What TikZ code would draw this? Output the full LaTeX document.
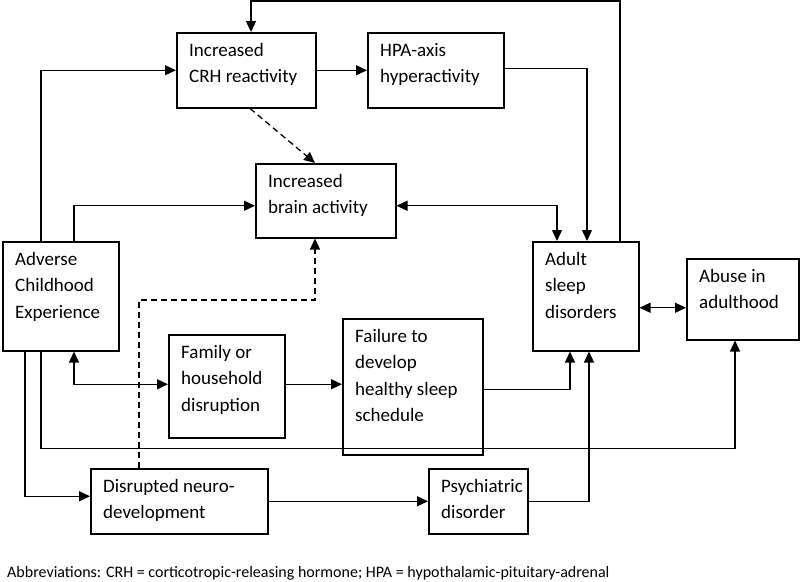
\documentclass[tikz,border=0pt]{standalone}
\usepackage{fontspec}
\setmainfont{Carlito}
\usetikzlibrary{arrows.meta}
\tikzset{
	box/.style={draw, line width=1.5pt, inner sep=0pt, anchor=north west},
	txt/.style={anchor=north west, align=left, inner xsep=13pt, inner ysep=11pt, font=\fontsize{19}{26.5}\selectfont},
	arr/.style={line width=1.3pt, -{Triangle[length=11pt,width=10pt]}},
	dbl/.style={line width=1.3pt, {Triangle[length=11pt,width=10pt]}-{Triangle[length=11pt,width=10pt]}},
	dsh/.style={dash pattern=on 6pt off 4pt},
}
\begin{document}
\begin{tikzpicture}[x=1pt, y=-1pt]
		\useasboundingbox (0,0) rectangle (800,581);
		% boxes
		\node[box, minimum width=139, minimum height=75] (crh) at (176,32) {};
		\node[box, minimum width=136, minimum height=75] (hpa) at (367,32) {};
		\node[box, minimum width=140, minimum height=74] (brain) at (255,163) {};
		\node[box, minimum width=116, minimum height=109] (ace) at (2,241) {};
		\node[box, minimum width=116, minimum height=103] (family) at (168,334) {};
		\node[box, minimum width=140, minimum height=136] (failure) at (342,318) {};
		\node[box, minimum width=106, minimum height=109] (adult) at (532,241) {};
		\node[box, minimum width=112, minimum height=81] (abuse) at (686,258) {};
		\node[box, minimum width=177, minimum height=65] (disr) at (90,468) {};
		\node[box, minimum width=99, minimum height=65] (psych) at (428,468) {};
		% texts
		\node[txt] (crh-t) at (crh.north west) {Increased\\CRH reactivity};
		\node[txt] (hpa-t) at (hpa.north west) {HPA-axis\\hyperactivity};
		\node[txt] (brain-t) at (brain.north west) {Increased\\brain activity};
		\node[txt] (ace-t) at (ace.north west) {Adverse\\Childhood\\Experience};
		\node[txt] (family-t) at (family.north west) {Family or\\household\\disruption};
		\node[txt] (failure-t) at (failure.north west) {Failure to\\develop\\healthy sleep\\schedule};
		\node[txt] (adult-t) at (adult.north west) {Adult\\sleep\\disorders};
		\node[txt] (abuse-t) at (abuse.north west) {Abuse in\\adulthood};
		\node[txt] (disr-t) at (disr.north west) {Disrupted neuro-\\development};
		\node[txt] (psych-t) at (psych.north west) {Psychiatric\\disorder};
		% connectors
		\draw[arr] ([xshift=39]ace.north west) |- (crh.west);
		\draw[arr] ([xshift=72]ace.north west) |- ([yshift=-5]brain.west);
		\draw[arr] (crh.east) -- (crh.east -| hpa.west);
		\draw[arr, dsh] ([xshift=74]crh.south west) -- ([xshift=60]brain.north west);
		\draw[arr] ([yshift=2]hpa.east) -| ([xshift=55]adult.north west);
		\draw[dbl] ([yshift=-5]brain.east) -| ([xshift=25]adult.north west);
		\draw[arr] ([xshift=88]adult.north west) -- ++(0,-240) -| ([xshift=75]crh.north west);
		\draw[dbl] ([xshift=72]ace.south west) |- ([yshift=2]family.west);
		\draw[arr] ([yshift=2]family.east) -- ([yshift=2]family.east -| failure.west);
		\draw[arr] ([yshift=-3]failure.east) -| ([xshift=38]adult.south west);
		\draw[arr, dsh] ([xshift=49]disr.north west) -- ++(0,-168) -| ([xshift=60]brain.south west);
		\draw[arr] ([xshift=39]ace.south west) -- ++(0,97) -| ([xshift=49]abuse.south west);
		\draw[arr] ([xshift=23]ace.south west) |- ([yshift=5]disr.west);
		\draw[arr] (disr) -- (psych);
		\draw[arr] (psych.east) -| ([xshift=57]adult.south west);
		\draw[dbl] ([yshift=-11.5]adult.east) -- ([yshift=-11.5]adult.east -| abuse.west);
		% footnote
		\node[anchor=base west, inner sep=0pt, font=\fontsize{16}{19}\selectfont] (abbr) at (7,577) {Abbreviations: CRH = corticotropic-releasing hormone; HPA = hypothalamic-pituitary-adrenal};
		\end{tikzpicture}
\end{document}
